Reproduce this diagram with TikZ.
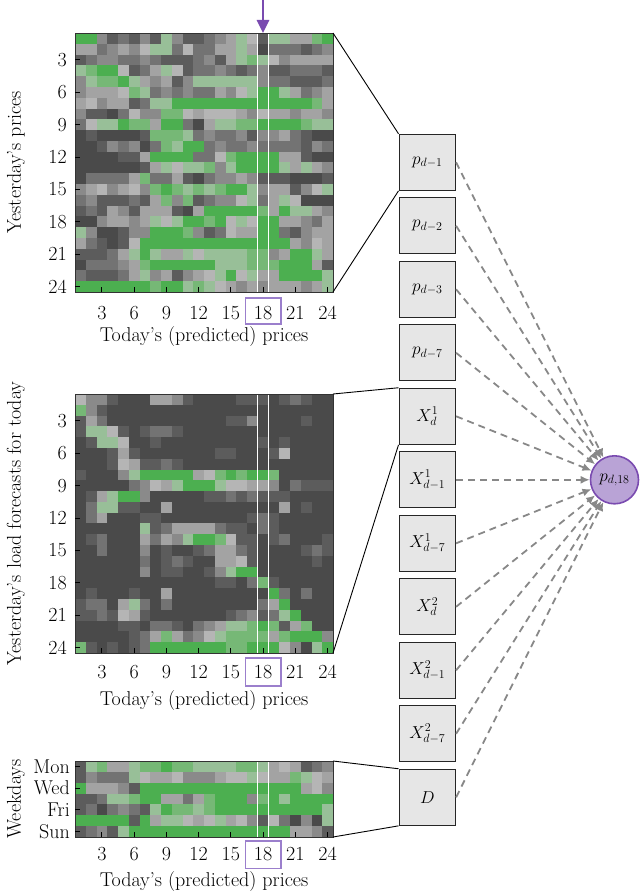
\documentclass[tikz,border=0pt]{standalone}
\usetikzlibrary{arrows.meta}
\definecolor{hm0}{HTML}{4A4A4A}
\definecolor{hm1}{HTML}{5C5C5C}
\definecolor{hm2}{HTML}{737373}
\definecolor{hm3}{HTML}{8A8A8A}
\definecolor{hm4}{HTML}{A3A3A3}
\definecolor{hm5}{HTML}{B5B5B5}
\definecolor{hm6}{HTML}{98BF98}
\definecolor{hm7}{HTML}{76B876}
\definecolor{hm8}{HTML}{4CAF50}
\definecolor{boxfill}{HTML}{E6E6E6}
\definecolor{purpfill}{HTML}{B9A3D6}
\definecolor{purpdraw}{HTML}{7A4BB0}
\definecolor{purpbox}{HTML}{9B7FCC}
\definecolor{arrgray}{HTML}{888888}
\newcommand\hmrow[4]{\foreach \v [count=\c] in {#4} {\fill[hm\v] ({75+(\c-1)*10.75},{#1+(#3-1)*#2}) rectangle ++(10.9,{#2+0.15});}}
\tikzset{
  lab/.style={font=\fontsize{20}{24}\selectfont, inner sep=0pt},
  featbox/.style={draw=black!85, line width=1.1pt, fill=boxfill, minimum width=56.5pt, minimum height=56pt, inner sep=0pt, font=\fontsize{18}{20}\selectfont},
  dasharrow/.style={draw=arrgray, line width=1.8pt, dash pattern=on 7pt off 5pt, -{Latex[length=9pt,width=8pt]}},
  funnel/.style={draw=black, line width=0.9pt},
  axisframe/.style={draw=black!80, line width=0.7pt},
  tickmark/.style={draw=black, line width=1pt},
  selline/.style={draw=white, line width=1.4pt},
  selbox/.style={draw=purpbox, line width=1.1pt}
}
\begin{document}
\begin{tikzpicture}[x=1pt,y=-1pt]
\useasboundingbox (0,0) rectangle (640,893);
% ---------------- top heatmap ----------------
\hmrow{33}{10.79}{1}{8,8,3,1,2,1,3,1,6,3,1,1,2,3,4,6,5,1,6,6,4,4,7,8}
\hmrow{33}{10.79}{2}{4,4,2,3,4,3,5,6,6,2,5,2,2,4,4,6,4,0,2,2,2,1,2,3}
\hmrow{33}{10.79}{3}{1,2,3,3,2,2,3,2,1,1,1,2,3,1,4,6,7,6,5,3,4,4,4,4}
\hmrow{33}{10.79}{4}{6,7,8,8,5,1,2,4,6,5,1,2,2,3,2,1,2,3,1,1,2,2,2,1}
\hmrow{33}{10.79}{5}{3,6,7,7,8,6,4,3,4,1,3,6,6,6,6,6,6,3,2,2,1,1,1,2}
\hmrow{33}{10.79}{6}{3,4,4,4,5,7,6,2,3,2,3,2,2,4,3,5,6,8,8,6,4,2,3,4}
\hmrow{33}{10.79}{7}{4,5,3,4,4,1,2,6,6,8,8,8,8,8,8,8,8,8,8,8,8,8,7,4}
\hmrow{33}{10.79}{8}{3,1,1,0,2,5,3,3,7,7,5,4,5,5,5,4,3,5,4,4,3,4,4,3}
\hmrow{33}{10.79}{9}{2,5,6,6,8,7,7,4,8,8,2,0,4,6,6,7,7,8,8,8,8,7,6,6}
\hmrow{33}{10.79}{10}{0,1,0,0,0,0,1,7,7,7,6,2,3,2,2,3,1,3,3,4,2,1,0,0}
\hmrow{33}{10.79}{11}{0,0,1,3,2,3,0,2,7,6,8,8,2,3,2,2,3,2,2,2,2,1,3,2}
\hmrow{33}{10.79}{12}{0,0,0,0,1,1,4,8,8,8,8,2,2,5,7,8,8,8,8,4,4,1,0,0}
\hmrow{33}{10.79}{13}{0,0,0,0,0,0,1,4,6,5,6,6,7,3,6,8,8,8,8,6,4,6,4,3}
\hmrow{33}{10.79}{14}{0,2,2,2,2,4,7,2,2,4,1,0,2,3,3,4,3,1,1,1,0,0,0,1}
\hmrow{33}{10.79}{15}{3,4,5,3,4,5,3,7,8,7,6,7,6,7,8,8,6,3,4,4,1,3,5,6}
\hmrow{33}{10.79}{16}{2,3,1,1,1,2,1,4,7,3,7,1,2,3,3,5,6,2,4,6,5,0,0,0}
\hmrow{33}{10.79}{17}{1,2,1,4,3,1,4,4,4,1,0,4,8,8,8,8,8,7,4,8,6,6,4,3}
\hmrow{33}{10.79}{18}{0,0,3,4,4,3,4,6,5,6,8,8,7,8,5,6,5,8,8,4,4,3,2,4}
\hmrow{33}{10.79}{19}{6,3,0,0,1,3,3,8,8,8,7,3,1,2,5,4,4,8,8,2,1,3,4,4}
\hmrow{33}{10.79}{20}{4,2,1,0,1,5,8,8,8,8,8,8,8,8,8,8,8,8,8,8,4,3,5,4}
\hmrow{33}{10.79}{21}{1,1,1,2,4,6,8,6,4,4,6,5,6,6,6,6,7,7,3,4,8,8,6,4}
\hmrow{33}{10.79}{22}{0,2,2,2,3,4,7,8,8,8,8,8,8,6,6,6,7,7,7,8,8,8,4,1}
\hmrow{33}{10.79}{23}{2,1,1,1,2,4,6,3,4,1,3,4,5,6,8,5,6,4,4,8,8,8,8,6}
\hmrow{33}{10.79}{24}{8,8,8,8,8,8,8,7,8,8,6,7,6,5,4,3,4,3,4,4,4,3,4,6}
\draw[selline] (257.75,33) -- (257.75,292);
\draw[selline] (268.5,33) -- (268.5,292);
\draw[axisframe] (75,33) rectangle (333,292);
\foreach \k in {3,6,...,24} {
  \draw[tickmark] ({75+(\k-0.5)*10.75},292) -- ++(0,-5);
  \draw[tickmark] (75,{33+(\k-0.5)*10.79}) -- ++(5,0);
  \node[lab,anchor=base] (tx\k) at ({75+(\k-0.5)*10.75},319) {\k};
  \node[lab,anchor=east] (ty\k) at (67,{33+(\k-0.5)*10.79}) {\k};
}
\draw[selbox] (245.7,298) rectangle (281,324);
\node[lab,anchor=base] (xt1) at (204,341.5) {Today's (predicted) prices};
\node[lab,rotate=90,anchor=center] (yt1) at (16,162.5) {Yesterday's prices};
\coordinate (arrtop) at (263,0);
\coordinate (arrbot) at (263,33);
\draw[draw=purpdraw, line width=2.6pt, -{Triangle[length=13pt,width=12pt]}] (arrtop) -- (arrbot);
% ---------------- middle heatmap ----------------
\hmrow{394}{10.79}{1}{5,3,3,1,0,0,0,4,4,3,1,0,0,0,0,1,1,1,0,1,2,1,0,0}
\hmrow{394}{10.79}{2}{7,3,1,0,0,0,0,0,0,0,0,0,0,0,0,0,0,0,0,0,0,0,0,0}
\hmrow{394}{10.79}{3}{1,4,2,0,0,0,0,0,0,0,0,0,0,0,1,1,3,0,0,0,0,1,0,0}
\hmrow{394}{10.79}{4}{1,6,6,5,1,0,1,2,2,1,0,0,0,0,0,0,0,0,0,0,0,0,0,0}
\hmrow{394}{10.79}{5}{0,1,6,6,5,0,0,1,0,0,0,0,0,0,0,0,0,1,0,1,0,0,0,0}
\hmrow{394}{10.79}{6}{0,0,0,1,4,1,0,0,0,0,0,0,0,1,1,0,0,0,1,5,0,0,0,0}
\hmrow{394}{10.79}{7}{0,0,0,1,5,4,1,1,2,1,0,0,0,0,0,0,0,0,0,0,0,0,0,0}
\hmrow{394}{10.79}{8}{1,0,0,0,3,6,8,8,8,8,8,4,5,7,8,7,8,8,7,0,0,0,0,0}
\hmrow{394}{10.79}{9}{0,0,0,0,0,2,3,5,4,6,8,8,8,6,5,5,4,4,3,0,2,1,1,1}
\hmrow{394}{10.79}{10}{0,1,4,6,8,8,3,0,0,0,0,0,1,1,2,1,2,1,1,1,0,0,0,0}
\hmrow{394}{10.79}{11}{0,2,6,6,1,1,0,0,4,0,0,0,0,0,0,0,0,0,0,4,0,1,0,0}
\hmrow{394}{10.79}{12}{0,2,4,0,0,0,1,1,0,0,0,0,0,0,0,0,1,2,1,0,0,0,0,0}
\hmrow{394}{10.79}{13}{0,0,0,0,0,0,6,1,2,4,4,4,4,2,1,1,0,2,1,0,0,0,0,0}
\hmrow{394}{10.79}{14}{0,1,2,0,0,0,4,2,4,3,6,8,8,7,5,1,1,0,1,2,0,0,0,1}
\hmrow{394}{10.79}{15}{0,0,2,0,0,0,3,0,1,0,0,1,2,4,4,2,1,0,0,0,0,1,2,1}
\hmrow{394}{10.79}{16}{0,0,0,0,0,0,2,0,1,2,1,0,0,4,4,5,1,0,0,0,0,0,1,0}
\hmrow{394}{10.79}{17}{0,0,0,0,0,0,3,0,1,1,0,0,1,3,6,8,8,0,0,0,0,0,0,0}
\hmrow{394}{10.79}{18}{0,0,0,0,0,0,0,0,0,0,0,0,0,1,1,0,2,7,1,0,0,0,0,0}
\hmrow{394}{10.79}{19}{0,1,0,0,0,1,0,0,4,0,0,0,0,0,0,0,0,0,8,2,0,2,0,0}
\hmrow{394}{10.79}{20}{1,2,2,0,4,6,2,0,2,0,0,0,0,0,0,0,0,2,4,8,0,0,0,0}
\hmrow{394}{10.79}{21}{1,1,2,1,5,4,1,0,0,0,0,0,0,0,1,2,3,1,2,6,8,0,0,0}
\hmrow{394}{10.79}{22}{0,0,0,0,1,1,0,2,2,1,0,2,3,4,6,6,7,8,7,1,4,7,0,0}
\hmrow{394}{10.79}{23}{0,0,0,0,0,1,2,4,7,4,2,3,5,6,7,7,7,7,4,7,8,8,8,3}
\hmrow{394}{10.79}{24}{7,1,0,1,0,1,2,8,8,8,8,8,8,8,7,7,8,8,8,5,3,0,6,8}
\draw[selline] (257.75,394) -- (257.75,653);
\draw[selline] (268.5,394) -- (268.5,653);
\draw[axisframe] (75,394) rectangle (333,653);
\foreach \k in {3,6,...,24} {
  \draw[tickmark] ({75+(\k-0.5)*10.75},653) -- ++(0,-5);
  \draw[tickmark] (75,{394+(\k-0.5)*10.79}) -- ++(5,0);
  \node[lab,anchor=base] (mx\k) at ({75+(\k-0.5)*10.75},678.5) {\k};
  \node[lab,anchor=east] (my\k) at (67,{394+(\k-0.5)*10.79}) {\k};
}
\draw[selbox] (245.7,658) rectangle (281,686);
\node[lab,anchor=base] (xt2) at (204,705) {Today's (predicted) prices};
\node[lab,rotate=90,anchor=center] (yt2) at (16,523.5) {Yesterday's load forecasts for today};
% ---------------- bottom heatmap ----------------
\hmrow{761}{10.86}{1}{1,6,7,4,4,6,7,7,8,7,7,6,6,6,6,7,7,6,4,5,4,1,2,3}
\hmrow{761}{10.86}{2}{1,3,2,2,2,6,5,4,4,5,3,3,3,4,5,5,6,5,4,4,7,6,5,4}
\hmrow{761}{10.86}{3}{8,4,4,4,3,1,8,8,8,8,8,8,8,8,8,8,8,8,8,8,8,4,5,3}
\hmrow{761}{10.86}{4}{1,1,2,6,6,7,8,8,4,4,2,4,7,8,8,8,3,7,8,6,8,8,8,8}
\hmrow{761}{10.86}{5}{1,2,0,2,3,2,1,6,8,7,7,6,7,8,8,8,8,8,8,8,8,8,8,6}
\hmrow{761}{10.86}{6}{8,8,8,8,8,1,8,4,6,6,5,4,5,6,4,5,3,1,5,2,0,3,0,6}
\hmrow{761}{10.86}{7}{1,2,3,1,6,8,8,8,8,8,8,8,8,8,8,8,8,8,8,8,4,4,3,1}
\draw[selline] (257.75,761) -- (257.75,837);
\draw[selline] (268.5,761) -- (268.5,837);
\draw[axisframe] (75,761) rectangle (333,837);
\foreach \k in {3,6,...,24} {
  \draw[tickmark] ({75+(\k-0.5)*10.75},837) -- ++(0,-5);
  \node[lab,anchor=base] (bx\k) at ({75+(\k-0.5)*10.75},860.7) {\k};
}
\foreach \r/\d in {1/Mon,3/Wed,5/Fri,7/Sun} {
  \draw[tickmark] (75,{761+(\r-0.5)*10.86}) -- ++(5,0);
  \node[lab,anchor=east] (day\r) at (70,{761+(\r-0.5)*10.86}) {\d};
}
\draw[selbox] (245.7,841) rectangle (281,868.3);
\node[lab,anchor=base] (xt3) at (204,886.7) {Today's (predicted) prices};
\node[lab,rotate=90,anchor=center] (yt3) at (16,799) {Weekdays};
% ---------------- feature boxes ----------------
\node[featbox] (b1) at (427.3,162.3) {$p_{d-1}$};
\node[featbox] (b2) at (427.3,225.8) {$p_{d-2}$};
\node[featbox] (b3) at (427.3,289.3) {$p_{d-3}$};
\node[featbox] (b4) at (427.3,352.8) {$p_{d-7}$};
\node[featbox] (b5) at (427.3,416.3) {$X^1_{d}$};
\node[featbox] (b6) at (427.3,479.8) {$X^1_{d-1}$};
\node[featbox] (b7) at (427.3,543.3) {$X^1_{d-7}$};
\node[featbox] (b8) at (427.3,606.8) {$X^2_{d}$};
\node[featbox] (b9) at (427.3,670.3) {$X^2_{d-1}$};
\node[featbox] (b10) at (427.3,733.8) {$X^2_{d-7}$};
\node[featbox] (b11) at (427.3,797.3) {$D$};
\node[circle, draw=purpdraw, line width=1.6pt, fill=purpfill, minimum size=48pt, inner sep=0pt, font=\fontsize{18}{20}\selectfont] (out) at (614.5,479.8) {$p_{d,18}$};
% ---------------- funnels ----------------
\coordinate (t1) at (333,33);
\coordinate (t2) at (333,292);
\coordinate (m1) at (333,394);
\coordinate (m2) at (333,653);
\coordinate (w1) at (333,761);
\coordinate (w2) at (333,837);
\draw[funnel] (t1) -- (b1.north west);
\draw[funnel] (t2) -- (b1.south west);
\draw[funnel] (m1) -- (b5.north west);
\draw[funnel] (m2) -- (b5.south west);
\draw[funnel] (w1) -- (b11.north west);
\draw[funnel] (w2) -- (b11.south west);
% ---------------- arrows ----------------
\foreach \i in {1,...,11} {
  \draw[dasharrow] (b\i.east) -- (out);
}
\end{tikzpicture}
\end{document}
